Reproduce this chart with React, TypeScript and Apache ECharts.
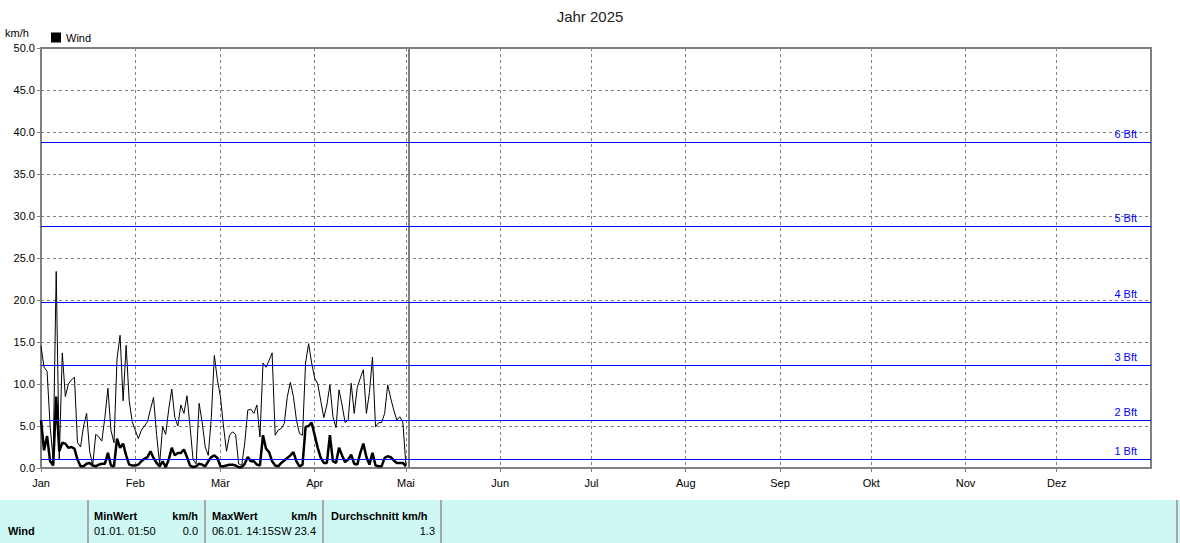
import React, { useEffect, useRef } from "react";
import * as echarts from "echarts";

const monthNames = ["Jan", "Feb", "Mär", "Apr", "Mai", "Jun", "Jul", "Aug", "Sep", "Okt", "Nov", "Dez"];
const monthStarts = [0, 31, 59, 90, 120, 151, 181, 212, 243, 273, 304, 334];
const yTicks = [0, 5, 10, 15, 20, 25, 30, 35, 40, 45, 50];

// daily maximum (thin line), km/h, from 01.01.
const gustValues = [
  14.5, 12, 11.5, 5, 1, 23.4, 1, 13.7, 8.5, 10, 10.5, 10.8, 3, 2.5, 5, 6.5, 2, 0.3, 4, 3.7,
  3.2, 6, 9.5, 4.5, 3, 13, 15.8, 8, 14.6, 8, 5.5, 4.5, 3.5, 4.5, 5, 5.5, 7, 8.4, 4, 0.5,
  4.9, 4, 7, 9.4, 6, 5, 7.5, 6.5, 8.6, 5, 1, 0.5, 7.7, 5.4, 2.5, 1.5, 6, 13.4, 10.5, 8.5,
  5, 2, 3.9, 4.3, 4, 0.5, 0.3, 3, 6.9, 7, 6.5, 7.5, 3.7, 12.5, 12, 12.8, 13.7, 3.9, 4.5, 4.7,
  5.3, 8.5, 10.2, 8.5, 5.7, 4.1, 3.9, 12.5, 14.8, 12.5, 10.7, 10, 8, 6, 7.5, 9.9, 6.1, 4.8, 9.3, 7.5,
  5.4, 5.7, 10.1, 6.5, 9.6, 10.7, 11.7, 6.5, 9, 13.2, 4.9, 5.4, 5.4, 6.5, 9.9, 8.3, 6.9, 5.7, 6.1, 5.4,
  0.3,
];

// daily mean (thick line), km/h, from 01.01.
const meanValues = [
  5.7, 2.1, 3.8, 0.8, 0.3, 8.5, 2, 3, 2.9, 2.4, 2.5, 2.3, 1, 0.2, 0.2, 0.5, 0.6, 0.3, 0.2, 0.4,
  0.5, 0.5, 1.8, 0.3, 0.2, 3.5, 2.4, 2.9, 1.5, 0.4, 0.3, 0.3, 0.4, 0.8, 1.1, 1.3, 2, 1.2, 0.6, 0.2,
  0.8, 0.1, 1, 2.4, 1.5, 1.8, 1.8, 2.2, 1.3, 0.3, 0.1, 0.2, 0.5, 0.4, 0.2, 0.8, 1.3, 1.5, 1.2, 0.2,
  0.2, 0.3, 0.4, 0.4, 0.3, 0.1, 0.1, 0.5, 1.3, 0.8, 0.8, 0.4, 0.3, 3.9, 2.3, 1.9, 0.8, 0.3, 0.2, 0.6,
  0.9, 1.2, 1.5, 1.9, 0.8, 0.2, 0.4, 4.9, 5, 5.4, 3.9, 2.4, 1.2, 0.6, 0.6, 3.9, 0.8, 0.6, 2.4, 1.5,
  0.7, 1, 1.6, 0.5, 0.4, 1.8, 2.9, 1.3, 0.4, 1.8, 0.3, 0.2, 0.2, 1.2, 1.4, 1.3, 0.9, 0.6, 0.6, 0.6,
  0.2,
];

// Beaufort thresholds (km/h)
const bftLimits = [1.01, 5.65, 12.2, 19.7, 28.75, 38.75];
const bftLabels = ["1 Bft", "2 Bft", "3 Bft", "4 Bft", "5 Bft", "6 Bft"];
const todayIndex = 121;

const FONT = "Liberation Sans, Arial, sans-serif";

function buildDays(): string[] {
  const days: string[] = [];
  const start = Date.UTC(2025, 0, 1);
  for (let i = 0; i <= 365; i++) {
    const d = new Date(start + i * 86400000);
    const dd = String(d.getUTCDate()).padStart(2, "0");
    const mm = String(d.getUTCMonth() + 1).padStart(2, "0");
    days.push(`${dd}.${mm}.${d.getUTCFullYear()}`);
  }
  return days;
}

export default function App() {
  const ref = useRef<HTMLDivElement>(null);
  useEffect(() => {
    if (!ref.current) return;
    const chart = echarts.init(ref.current, null, { renderer: "svg" });
    const days = buildDays();
    const isMonthStart = (i: number) => monthStarts.indexOf(i) >= 0;
    const gray = "#808080";
    const blue = "#0000ff";
    const tableTop = 500;
    const sepXs = [88, 205, 323, 441, 1177];
    const txt = (x: number, y: number, text: string, bold = false, align = "left") => ({
      type: "text",
      x,
      y,
      style: {
        text,
        fill: "#000",
        font: `${bold ? "bold " : ""}11px ${FONT}`,
        textAlign: align,
        textVerticalAlign: "middle",
      },
    });
    chart.setOption({
      animation: false,
      backgroundColor: "#ffffff",
      title: {
        text: "Jahr 2025",
        left: "center",
        top: 4,
        textStyle: { fontSize: 15, fontWeight: "normal", color: "#222", fontFamily: FONT },
      },
      legend: {
        data: [{ name: "Wind", icon: "rect" }],
        left: 46,
        top: 27,
        itemWidth: 10,
        itemHeight: 10,
        itemGap: 4,
        textStyle: { fontSize: 11, color: "#000", fontFamily: FONT },
        selectedMode: false,
      },
      grid: {
        left: 41,
        right: 29,
        top: 48,
        bottom: 75,
        show: true,
        borderColor: gray,
        borderWidth: 2,
        backgroundColor: "transparent",
      },
      xAxis: {
        type: "category",
        data: days,
        boundaryGap: false,
        axisLine: { lineStyle: { color: gray, width: 2 } },
        axisTick: { show: true, interval: (i: number) => isMonthStart(i), length: 4, lineStyle: { color: gray } },
        axisLabel: {
          interval: (i: number) => isMonthStart(i),
          formatter: (_v: string, i: number) => monthNames[monthStarts.indexOf(i)] ?? "",
          color: "#000",
          fontSize: 11,
          fontFamily: FONT,
          margin: 9,
        },
        splitLine: {
          show: true,
          interval: (i: number) => isMonthStart(i) && i !== 0,
          lineStyle: { color: gray, type: [3, 3], width: 1 },
        },
      },
      yAxis: {
        type: "value",
        min: 0,
        max: 50,
        interval: 5,
        axisLine: { show: true, lineStyle: { color: gray, width: 2 } },
        axisTick: { show: true, length: 4, lineStyle: { color: gray } },
        axisLabel: {
          formatter: (v: number) => (yTicks.indexOf(v) >= 0 ? v.toFixed(1) : ""),
          color: "#000",
          fontSize: 11,
          fontFamily: FONT,
          margin: 6,
        },
        splitLine: { show: true, lineStyle: { color: gray, type: [3, 3], width: 1 } },
      },
      series: [
        {
          name: "Böen",
          type: "line",
          data: gustValues,
          showSymbol: false,
          symbol: "none",
          lineStyle: { color: "#000", width: 1 },
          itemStyle: { color: "#000" },
          z: 3,
          markLine: {
            silent: true,
            symbol: "none",
            animation: false,
            lineStyle: { color: gray, width: 2, type: "solid" },
            label: { show: false },
            data: [{ xAxis: todayIndex, lineStyle: { color: gray, width: 2, type: "solid" } }],
          },
        },
        {
          name: "Wind",
          type: "line",
          data: meanValues,
          showSymbol: false,
          symbol: "none",
          lineStyle: { color: "#000", width: 2.5 },
          itemStyle: { color: "#000" },
          z: 4,
          markLine: {
            silent: true,
            symbol: "none",
            animation: false,
            lineStyle: { color: blue, width: 1, type: "solid", opacity: 1 },
            data: bftLimits.map((v, i) => ({
              yAxis: v,
              lineStyle: { color: blue, width: 1, type: "solid", opacity: 1 },
              label: {
                show: true,
                formatter: bftLabels[i],
                position: "insideEndTop",
                distance: [14, 3],
                color: blue,
                fontSize: 11,
                fontFamily: FONT,
              },
            })),
          },
        },
      ],
      graphic: [
        {
          type: "text",
          left: 5,
          top: 27,
          style: { text: "km/h", fill: "#000", font: `11px ${FONT}` },
        },
        {
          type: "rect",
          shape: { x: 0, y: tableTop, width: 1180, height: 543 - tableTop },
          style: { fill: "#cdf8f4" },
          z: 0,
        },
        ...sepXs.map((x) => ({
          type: "line",
          shape: { x1: x, y1: tableTop, x2: x, y2: 543 },
          style: { stroke: "#a8a8a8", lineWidth: 2 },
        })),
        txt(8, 531, "Wind", true),
        txt(94, 516, "MinWert", true),
        txt(198, 516, "km/h", true, "right"),
        txt(94, 531, "01.01."),
        txt(128, 531, "01:50"),
        txt(198, 531, "0.0", false, "right"),
        txt(212, 516, "MaxWert", true),
        txt(317, 516, "km/h", true, "right"),
        txt(212, 531, "06.01."),
        txt(316, 531, "14:15SW 23.4", false, "right"),
        txt(331, 516, "Durchschnitt km/h", true),
        txt(435, 531, "1.3", false, "right"),
      ],
    });
    return () => chart.dispose();
  }, []);
  return (
    <div
      ref={ref}
      style={{ position: "fixed", left: 0, top: 0, width: 1180, height: 543, background: "#fff" }}
    />
  );
}
